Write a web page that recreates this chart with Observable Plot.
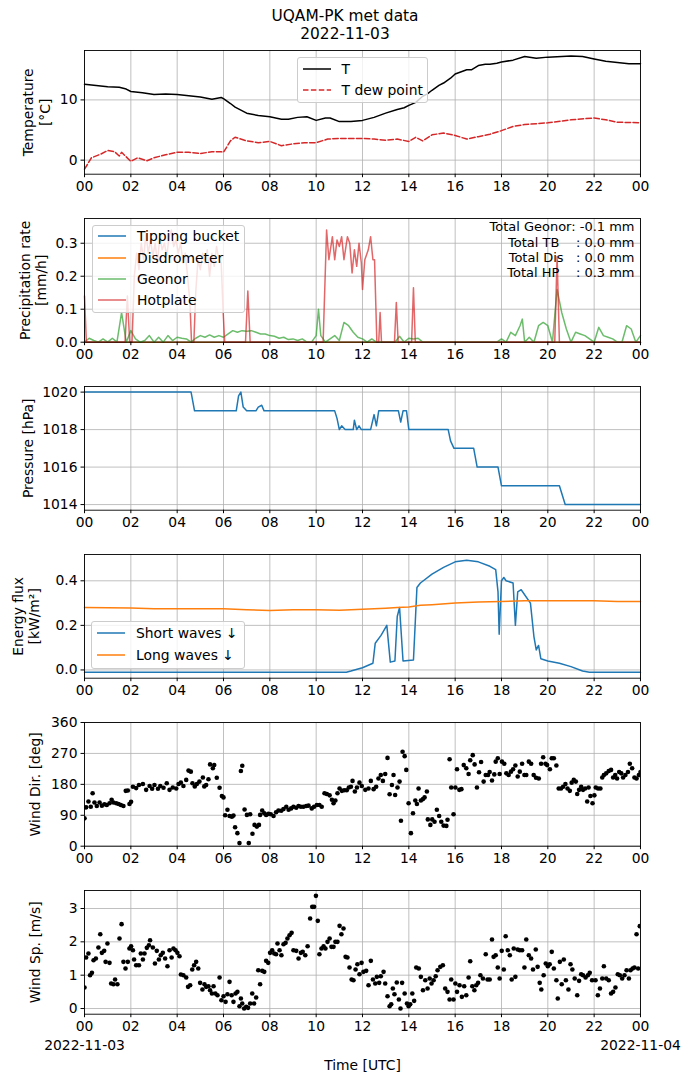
<!DOCTYPE html>
<html>
<head>
<meta charset="utf-8">
<script src="https://cdn.jsdelivr.net/npm/d3@7"></script>
<script src="https://cdn.jsdelivr.net/npm/@observablehq/plot@0.6"></script>
<style>
  body { margin: 0; background: #fff; }
  #fig { position: relative; width: 690px; height: 1083px; font-family: "DejaVu Sans"; color: #000; overflow: hidden; background: #fff; }
  .panel { position: absolute; left: 0; }
  svg text { white-space: pre; }
  .title { position: absolute; left: 0; width: 690px; text-align: center; font-size: 15.4px; line-height: 18px; height: 18px; }
  .legend { position: absolute; background: rgba(255,255,255,0.8); border: 1px solid #cccccc; border-radius: 3px; box-sizing: border-box; font-size: 13.9px; }
  .row { position: absolute; left: 0; height: 20px; display: flex; align-items: center; white-space: pre; }
  .row svg { margin-left: 5px; margin-right: 11px; }
</style>
</head>
<body>
<div id="fig"></div>
<script>
// ---------------- DATA ----------------
const titleLines = ["UQAM-PK met data", "2022-11-03"];
const hourTicks = [0, 2, 4, 6, 8, 10, 12, 14, 16, 18, 20, 22, 24];
const dateLabels = ["2022-11-03", "2022-11-04"];

// Temperature [°C]
const tempT = [[0,12.6],[0.5,12.4],[1,12.2],[1.5,12.1],[1.8,11.8],[2,11.4],[2.5,11.2],[3,10.9],[3.5,11.0],[4,10.9],[4.5,10.7],[5,10.5],[5.5,10.1],[5.9,10.4],[6.0,10.2],[6.3,9.4],[6.5,8.8],[7,7.8],[7.5,7.4],[8,7.2],[8.5,6.8],[8.8,6.8],[9.2,7.1],[9.6,7.2],[10,6.6],[10.4,7.0],[10.6,7.0],[11,6.4],[11.5,6.4],[12,6.6],[12.5,7.1],[13,7.8],[13.5,8.4],[13.8,8.7],[14,9.1],[14.3,9.6],[14.6,10.6],[14.8,11.0],[15,11.6],[15.3,12.4],[15.5,12.8],[15.8,13.6],[16,14.3],[16.5,15.0],[16.7,15.0],[17,15.7],[17.3,15.9],[17.5,15.9],[17.8,16.1],[18,16.3],[18.5,16.6],[19,17.2],[19.5,16.9],[20,17.1],[21,17.3],[21.5,17.2],[22,16.8],[22.5,16.4],[23,16.2],[23.5,16.0],[24,16.0]];
const tempDew = [[0,-1.5],[0.3,0.4],[0.7,1.0],[1.0,1.6],[1.3,1.4],[1.5,0.7],[1.6,1.3],[2.0,-0.2],[2.3,0.4],[2.7,-0.1],[3.0,0.4],[3.5,0.9],[4.0,1.3],[4.5,1.3],[5.0,1.1],[5.5,1.4],[5.9,1.4],[6.0,1.3],[6.3,3.2],[6.5,3.8],[7.0,3.2],[7.5,2.9],[8.0,3.1],[8.5,2.4],[9.0,2.7],[9.5,2.9],[10.0,2.9],[10.5,3.5],[11.0,3.6],[12.0,3.6],[12.5,3.5],[13.0,3.3],[13.5,3.5],[14.0,3.1],[14.3,3.8],[14.6,3.2],[15.0,4.2],[15.5,4.5],[16.0,4.1],[16.5,3.5],[17.0,3.9],[17.5,4.3],[18.0,4.9],[18.5,5.6],[19.0,5.9],[20.0,6.2],[21.0,6.7],[22.0,7.0],[22.5,6.7],[23.0,6.3],[24.0,6.2]];

// Precipitation rate [mm/h]
const precipTB = [[0,0],[24,0]];
const precipDis = [[0,0],[24,0]];
const precipGeonor = [[0,0],[0.2,0.012],[0.4,0.005],[0.6,0],[0.8,0.01],[1.0,0],[1.2,0.012],[1.4,0],[1.6,0.09],[1.8,0],[2.0,0.035],[2.2,0.01],[2.4,0],[2.6,0.005],[2.8,0.02],[3.0,0],[3.2,0.015],[3.4,0],[3.6,0.02],[3.8,0.005],[4.0,0.015],[4.2,0.012],[4.4,0.01],[4.6,0],[4.8,0.012],[5.0,0.02],[5.2,0.015],[5.4,0.022],[5.6,0.015],[5.8,0.02],[6.0,0.015],[6.2,0.025],[6.4,0.035],[6.6,0.03],[6.8,0.035],[7.0,0.033],[7.2,0.035],[7.4,0.03],[7.6,0.025],[7.8,0.025],[8.0,0.02],[8.2,0.018],[8.4,0.012],[8.6,0.015],[8.8,0.008],[9.0,0.01],[9.2,0.005],[9.4,0.01],[9.6,0],[9.8,0],[10.0,0.02],[10.1,0.1],[10.2,0.02],[10.4,0],[10.6,0.01],[10.8,0.02],[11.0,0.005],[11.2,0.06],[11.4,0.05],[11.6,0.03],[11.8,0.015],[12.0,0.01],[12.2,0],[12.4,0.01],[12.6,0],[13.4,0],[13.6,0.018],[13.8,0],[14.0,0.012],[14.2,0.01],[14.4,0.012],[14.6,0],[17.8,0],[18.0,0.01],[18.2,0],[18.4,0.03],[18.6,0.02],[18.8,0.05],[18.9,0.07],[19.0,0],[19.2,0.015],[19.4,0],[19.6,0.05],[19.8,0.06],[20.0,0.05],[20.2,0],[20.4,0.16],[20.6,0.09],[20.8,0.04],[21.0,0],[21.2,0.03],[21.4,0.025],[21.6,0.02],[21.8,0.01],[22.0,0],[22.2,0.045],[22.4,0.02],[22.6,0.015],[22.8,0.01],[23.0,0],[23.2,0],[23.4,0.05],[23.6,0.04],[23.8,0],[24.0,0.02]];
const precipHotplate = [[0,0.14],[0.08,0],[1.75,0],[1.85,0.14],[1.95,0],[2.05,0],[2.15,0.2],[2.25,0.27],[2.35,0.22],[2.45,0.3],[2.55,0.25],[2.65,0.33],[2.75,0.27],[2.85,0.31],[2.95,0.26],[3.05,0.3],[3.15,0.24],[3.25,0.32],[3.35,0.28],[3.45,0.3],[3.55,0.26],[3.65,0.32],[3.75,0.34],[3.85,0.29],[3.95,0.31],[4.05,0.27],[4.15,0.3],[4.25,0.24],[4.35,0.27],[4.45,0.2],[4.55,0.12],[4.62,0],[4.72,0],[4.8,0.15],[4.9,0.25],[5.0,0.22],[5.1,0.27],[5.2,0.24],[5.3,0.28],[5.4,0.2],[5.5,0.27],[5.6,0.23],[5.7,0.29],[5.8,0.25],[5.9,0.24],[5.98,0.1],[6.05,0],[6.95,0],[7.05,0.155],[7.15,0],[10.3,0],[10.45,0.34],[10.55,0.25],[10.7,0.32],[10.8,0.25],[10.9,0.31],[11.0,0.29],[11.1,0.32],[11.2,0.25],[11.35,0.32],[11.45,0.3],[11.55,0.21],[11.65,0.28],[11.75,0.23],[11.85,0.3],[11.95,0.24],[12.0,0.16],[12.1,0.25],[12.25,0.28],[12.35,0.32],[12.45,0.25],[12.52,0.25],[12.62,0],[12.7,0],[12.76,0.09],[12.82,0],[13.38,0],[13.46,0.12],[13.54,0],[14.12,0],[14.2,0.165],[14.28,0],[20.3,0],[20.4,0.26],[20.5,0],[24,0]];
const precipTotals = ["Total Geonor: -0.1 mm", "Total TB    : 0.0 mm", "Total Dis   : 0.0 mm", "Total HP    : 0.3 mm"];

// Pressure [hPa]
const pressure = [[0,1020],[4.6,1020],[4.75,1019],[6.55,1019],[6.65,1019.8],[6.75,1020],[6.85,1019.2],[7.0,1019],[7.4,1019],[7.5,1019.2],[7.65,1019.3],[7.75,1019],[10.8,1019],[10.9,1018.6],[11.0,1018],[11.1,1018.2],[11.25,1018],[11.6,1018],[11.65,1018.5],[11.75,1018],[11.85,1018.2],[11.95,1018],[12.35,1018],[12.5,1018.8],[12.6,1018.2],[12.7,1019],[13.55,1019],[13.65,1018.4],[13.75,1019],[13.9,1019],[14.0,1018],[15.7,1018],[15.8,1017.4],[15.95,1017],[16.8,1017],[16.95,1016],[17.85,1016],[18.0,1015],[20.5,1015],[20.75,1014],[24,1014]];

// Energy flux [kW/m²]
const shortWaves = [[0,-0.01],[11.3,-0.01],[11.5,-0.005],[12.0,0.01],[12.45,0.03],[12.55,0.12],[12.8,0.155],[13.05,0.2],[13.2,0.035],[13.4,0.04],[13.5,0.24],[13.6,0.28],[13.75,0.04],[14.2,0.045],[14.35,0.37],[14.5,0.39],[15.0,0.43],[15.5,0.46],[16.0,0.485],[16.5,0.492],[17.0,0.485],[17.5,0.465],[17.75,0.45],[17.85,0.35],[17.9,0.16],[18.0,0.4],[18.1,0.415],[18.2,0.4],[18.5,0.39],[18.6,0.2],[18.7,0.35],[18.85,0.36],[19.25,0.3],[19.4,0.15],[19.5,0.09],[19.6,0.11],[19.7,0.05],[20.0,0.04],[20.5,0.03],[21.0,0.015],[21.5,-0.005],[21.8,-0.01],[24,-0.01]];
const longWaves = [[0,0.28],[2,0.278],[3,0.275],[4,0.275],[6,0.275],[7,0.27],[8,0.267],[9,0.27],[10,0.27],[11,0.268],[12,0.272],[13,0.277],[13.5,0.28],[14,0.282],[14.5,0.29],[15,0.293],[16,0.3],[17,0.305],[18,0.307],[19,0.31],[20,0.31],[21,0.31],[22,0.31],[23,0.307],[24,0.307]];

// Wind direction [deg]
const windDir = [[0.00,81],[0.07,113],[0.17,130],[0.27,115],[0.35,154],[0.43,127],[0.53,117],[0.65,127],[0.75,118],[0.86,122],[0.96,120],[1.08,125],[1.17,135],[1.25,127],[1.37,125],[1.47,123],[1.57,120],[1.68,117],[1.78,161],[1.87,162],[1.94,123],[2.01,129],[2.09,173],[2.23,169],[2.35,178],[2.52,181],[2.66,164],[2.81,175],[2.92,167],[3.02,178],[3.17,167],[3.27,175],[3.41,170],[3.55,183],[3.67,164],[3.81,171],[3.96,168],[4.06,181],[4.16,185],[4.27,175],[4.39,193],[4.49,220],[4.59,217],[4.66,183],[4.76,174],[4.85,181],[4.96,188],[5.11,200],[5.17,174],[5.25,178],[5.35,195],[5.42,238],[5.54,227],[5.60,236],[5.71,199],[5.83,170],[5.93,146],[6.00,142],[6.07,90],[6.17,106],[6.26,88],[6.36,86],[6.43,89],[6.50,55],[6.60,38],[6.69,9],[6.75,219],[6.81,234],[6.91,107],[7.01,91],[7.09,9],[7.15,93],[7.25,36],[7.34,62],[7.44,57],[7.53,62],[7.58,91],[7.67,104],[7.76,96],[7.84,91],[7.94,94],[8.04,93],[8.16,88],[8.27,99],[8.37,104],[8.49,103],[8.59,108],[8.71,115],[8.81,106],[8.92,110],[9.02,115],[9.14,112],[9.24,117],[9.34,115],[9.45,115],[9.57,117],[9.67,118],[9.81,110],[9.91,115],[10.03,120],[10.14,120],[10.24,115],[10.36,154],[10.46,152],[10.58,148],[10.68,135],[10.75,125],[10.83,133],[10.92,154],[11.01,168],[11.11,161],[11.21,163],[11.32,163],[11.41,171],[11.50,173],[11.57,190],[11.67,159],[11.76,171],[11.87,185],[11.97,175],[12.12,164],[12.26,168],[12.36,190],[12.48,166],[12.59,173],[12.69,197],[12.79,207],[12.88,190],[12.98,210],[13.08,257],[13.17,151],[13.27,178],[13.34,207],[13.41,149],[13.51,171],[13.60,188],[13.66,74],[13.73,275],[13.82,262],[13.89,222],[13.99,125],[14.09,38],[14.18,96],[14.28,133],[14.35,123],[14.42,168],[14.52,133],[14.61,137],[14.68,142],[14.78,159],[14.82,78],[14.93,62],[15.01,78],[15.11,71],[15.21,106],[15.31,88],[15.40,71],[15.50,60],[15.62,59],[15.67,77],[15.76,253],[15.83,171],[15.93,93],[16.01,171],[16.08,224],[16.18,164],[16.27,166],[16.37,236],[16.48,227],[16.58,210],[16.65,250],[16.76,265],[16.84,238],[16.94,171],[17.03,215],[17.12,245],[17.23,188],[17.32,207],[17.42,207],[17.49,216],[17.59,191],[17.69,209],[17.75,246],[17.84,256],[17.92,210],[18.02,246],[18.12,240],[18.21,212],[18.31,207],[18.41,217],[18.50,224],[18.60,235],[18.70,203],[18.79,217],[18.89,240],[18.99,207],[19.07,207],[19.18,246],[19.28,240],[19.39,207],[19.49,199],[19.61,197],[19.71,240],[19.80,259],[19.90,240],[19.97,236],[20.09,224],[20.17,256],[20.26,256],[20.37,235],[20.47,168],[20.57,168],[20.66,173],[20.76,181],[20.85,168],[20.95,161],[21.03,185],[21.12,193],[21.21,188],[21.27,152],[21.35,164],[21.44,173],[21.52,164],[21.61,168],[21.70,130],[21.76,171],[21.84,146],[21.93,125],[22.01,148],[22.07,171],[22.17,168],[22.27,168],[22.35,200],[22.42,207],[22.52,212],[22.63,219],[22.73,222],[22.82,200],[22.91,207],[22.99,197],[23.08,216],[23.17,212],[23.25,200],[23.35,207],[23.46,216],[23.54,240],[23.64,227],[23.74,200],[23.83,197],[23.93,207],[24.00,216]];

// Wind speed [m/s]
const windSpeed = [[0.00,0.63],[0.07,1.53],[0.17,1.65],[0.24,1.0],[0.32,1.07],[0.39,1.45],[0.49,1.5],[0.60,1.83],[0.68,2.23],[0.75,1.67],[0.85,1.73],[0.91,1.4],[0.99,1.95],[1.08,1.37],[1.15,0.75],[1.25,0.73],[1.32,0.87],[1.42,0.73],[1.51,2.1],[1.60,2.53],[1.68,1.4],[1.77,1.2],[1.87,1.4],[1.94,1.8],[2.01,1.87],[2.09,1.75],[2.14,1.47],[2.23,1.3],[2.35,1.3],[2.43,1.65],[2.52,1.47],[2.59,1.65],[2.69,1.82],[2.78,1.9],[2.83,2.05],[2.95,1.83],[3.04,1.35],[3.12,1.73],[3.21,1.47],[3.29,1.6],[3.38,1.67],[3.48,1.5],[3.58,1.27],[3.67,1.75],[3.76,1.53],[3.84,1.8],[3.93,1.75],[4.01,1.67],[4.10,1.57],[4.16,1.02],[4.27,1.0],[4.39,0.93],[4.47,0.65],[4.56,0.7],[4.65,1.17],[4.73,1.3],[4.82,1.4],[4.91,1.2],[4.99,0.77],[5.09,0.57],[5.18,0.73],[5.25,0.65],[5.35,0.67],[5.42,0.55],[5.50,0.45],[5.57,0.67],[5.65,0.45],[5.74,0.4],[5.83,0.93],[5.91,0.25],[6.00,0.37],[6.09,0.2],[6.17,0.43],[6.26,0.8],[6.35,0.4],[6.43,0.2],[6.52,0.45],[6.60,0.5],[6.69,0.07],[6.75,0.3],[6.81,0.15],[6.89,0.0],[6.98,0.05],[7.06,0.02],[7.15,0.15],[7.24,0.45],[7.32,0.15],[7.41,0.33],[7.50,1.15],[7.58,0.73],[7.67,1.13],[7.76,1.1],[7.84,1.43],[7.93,1.37],[8.01,1.67],[8.10,1.75],[8.19,1.65],[8.27,1.63],[8.33,1.95],[8.42,1.75],[8.50,1.6],[8.59,1.93],[8.68,1.97],[8.76,2.1],[8.85,2.2],[8.94,2.27],[9.02,1.75],[9.14,1.73],[9.24,1.5],[9.34,1.67],[9.42,1.7],[9.53,1.6],[9.63,1.87],[9.74,2.7],[9.83,3.05],[9.91,3.05],[9.99,3.38],[10.07,2.63],[10.14,1.63],[10.23,1.8],[10.32,1.87],[10.40,1.8],[10.49,2.0],[10.58,2.1],[10.66,1.85],[10.75,1.85],[10.83,2.0],[10.92,2.0],[11.01,2.48],[11.09,2.23],[11.18,2.4],[11.27,1.55],[11.35,1.53],[11.44,1.23],[11.53,0.87],[11.61,0.85],[11.70,1.17],[11.78,1.33],[11.87,1.03],[11.96,1.37],[12.04,1.1],[12.16,1.13],[12.26,0.7],[12.36,1.43],[12.45,0.87],[12.55,0.75],[12.62,0.95],[12.72,0.77],[12.79,0.97],[12.91,1.1],[12.98,0.75],[13.08,0.37],[13.17,0.07],[13.24,0.13],[13.31,0.6],[13.38,0.43],[13.48,0.78],[13.57,0.27],[13.64,0.0],[13.71,0.77],[13.82,0.45],[13.92,0.15],[13.99,0.07],[14.06,0.13],[14.15,0.45],[14.23,0.23],[14.32,1.23],[14.43,1.2],[14.52,0.95],[14.61,0.55],[14.71,0.85],[14.81,0.6],[14.90,0.9],[14.98,0.75],[15.07,0.85],[15.16,0.97],[15.24,1.15],[15.36,1.25],[15.47,1.3],[15.57,0.6],[15.67,0.5],[15.76,0.27],[15.83,0.87],[15.93,0.27],[16.01,0.75],[16.08,0.5],[16.19,0.7],[16.29,0.35],[16.39,0.67],[16.48,0.4],[16.58,0.93],[16.65,1.42],[16.74,0.67],[16.83,0.55],[16.91,0.7],[16.99,0.77],[17.09,1.0],[17.20,0.9],[17.32,1.63],[17.40,0.87],[17.49,0.87],[17.59,2.07],[17.66,1.55],[17.75,1.6],[17.84,1.23],[17.92,0.9],[18.01,1.73],[18.10,1.17],[18.18,2.17],[18.27,1.75],[18.36,1.6],[18.44,0.87],[18.53,1.8],[18.60,0.95],[18.70,1.77],[18.79,1.75],[18.89,1.75],[18.99,1.23],[19.07,2.07],[19.18,1.6],[19.28,1.5],[19.36,1.17],[19.48,1.77],[19.56,1.25],[19.65,0.77],[19.72,0.57],[19.82,1.0],[19.91,1.35],[20.00,1.27],[20.08,1.33],[20.17,1.7],[20.26,1.2],[20.37,0.85],[20.43,0.3],[20.52,1.4],[20.60,0.73],[20.69,1.47],[20.78,0.85],[20.89,0.57],[20.98,1.33],[21.06,1.17],[21.16,0.9],[21.27,0.4],[21.35,0.83],[21.44,1.03],[21.52,1.0],[21.63,0.93],[21.73,1.0],[21.81,1.07],[21.91,0.85],[22.06,0.85],[22.16,0.4],[22.25,0.6],[22.35,0.9],[22.42,1.27],[22.52,0.9],[22.63,0.85],[22.73,0.45],[22.82,0.5],[22.92,0.63],[23.02,1.03],[23.11,1.0],[23.21,0.9],[23.31,1.0],[23.40,1.15],[23.50,0.9],[23.57,1.15],[23.66,1.2],[23.74,1.23],[23.83,2.23],[23.90,1.2],[23.97,2.47]];

// ---------------- LAYOUT / STYLE ----------------
const W = 690, ML = 84, MR = 50, FH = 123.7, MT = 6;
const FONT = "DejaVu Sans";
const GRID = "#b0b0b0";
const C = { blue: "#1f77b4", orange: "#ff7f0e", green: "#2ca02c", red: "#d62728" };
const pad2 = h => String(h % 24).padStart(2, "0");
const fig = document.getElementById("fig");

titleLines.forEach((t, i) => {
  const d = document.createElement("div");
  d.className = "title";
  d.style.top = (7 + i * 17.5) + "px";
  d.textContent = t;
  fig.appendChild(d);
});

function panel({top, yDomain, yTicks, yFormat = d => String(d), ylabel, labelDx, marks, bottom = false, extra = []}) {
  const MB = bottom ? 1083 - (top + FH) : 40;
  const svg = Plot.plot({
    width: W, height: FH + MT + MB,
    marginLeft: ML, marginRight: MR, marginTop: MT, marginBottom: MB,
    style: {fontFamily: FONT, fontSize: "13.9px", color: "black", background: "transparent", overflow: "visible"},
    x: {domain: [0, 24]},
    y: {domain: yDomain},
    marks: [
      Plot.gridX(hourTicks, {stroke: GRID, strokeOpacity: 1, strokeWidth: 0.8}),
      Plot.gridY(yTicks, {stroke: GRID, strokeOpacity: 1, strokeWidth: 0.8}),
      ...marks,
      Plot.frame({stroke: "black", strokeWidth: 0.9}),
      Plot.axisX(hourTicks, {tickFormat: pad2, tickSize: 3.5, tickPadding: 3.5, label: null, fontSize: 13.9}),
      Plot.axisY(yTicks, {tickFormat: yFormat, tickSize: 3.5, tickPadding: 3.5, label: null, fontSize: 13.9}),
      Plot.text([ylabel], {frameAnchor: "left", dx: labelDx, rotate: -90, textAnchor: "middle", lineAnchor: "middle", lineHeight: 1.2, text: d => d, fontSize: 13.9}),
      ...extra
    ]
  });
  const div = document.createElement("div");
  div.className = "panel";
  div.style.top = (top - MT) + "px";
  div.appendChild(svg);
  fig.appendChild(div);
}

function legend({left, top, width, height, items}) {
  const box = document.createElement("div");
  box.className = "legend";
  Object.assign(box.style, {left: left + "px", top: top + "px", width: width + "px", height: height + "px"});
  items.forEach(it => {
    const row = document.createElement("div");
    row.className = "row";
    row.style.top = (it.cy - top - 1 - 10) + "px";
    row.innerHTML = `<svg width="28" height="4"><line x1="0" y1="2" x2="28" y2="2" stroke="${it.color}" stroke-opacity="${it.opacity ?? 1}" stroke-width="1.5" ${it.dash ? `stroke-dasharray="${it.dash}"` : ""}/></svg><span>${it.label}</span>`;
    box.appendChild(row);
  });
  fig.appendChild(box);
}

const X = d => d[0], Y = d => d[1];
const tops = [50, 218.05, 386.1, 554.15, 722.2, 890.3];

// Panel 1: temperature
panel({
  top: tops[0], yDomain: [-2.33, 18.2], yTicks: [0, 10],
  ylabel: "Temperature\n[°C]", labelDx: -48.5,
  marks: [
    Plot.line(tempT, {x: X, y: Y, stroke: "black", strokeWidth: 1.5}),
    Plot.line(tempDew, {x: X, y: Y, stroke: C.red, strokeWidth: 1.5, strokeDasharray: "5.5,2.4"})
  ]
});

// Panel 2: precipitation
panel({
  top: tops[1], yDomain: [0, 0.375], yTicks: [0, 0.1, 0.2, 0.3], yFormat: d3.format(".1f"),
  ylabel: "Precipitation rate\n[mm/h]", labelDx: -52,
  marks: [
    Plot.line(precipTB, {x: X, y: Y, stroke: C.blue, strokeWidth: 1.5}),
    Plot.line(precipDis, {x: X, y: Y, stroke: C.orange, strokeWidth: 1.5}),
    Plot.line(precipGeonor, {x: X, y: Y, stroke: C.green, strokeOpacity: 0.7, strokeWidth: 1.5}),
    Plot.line(precipHotplate, {x: X, y: Y, stroke: C.red, strokeOpacity: 0.7, strokeWidth: 1.5})
  ],
  extra: [
    Plot.text([precipTotals.join("\n")], {frameAnchor: "top-right", dx: -6, dy: 2, textAnchor: "end", lineAnchor: "top", lineHeight: 1.18, text: d => d, fontSize: 13})
  ]
});

// Panel 3: pressure
panel({
  top: tops[2], yDomain: [1013.7, 1020.3], yTicks: [1014, 1016, 1018, 1020],
  ylabel: "Pressure [hPa]", labelDx: -57,
  marks: [Plot.line(pressure, {x: X, y: Y, stroke: C.blue, strokeWidth: 1.5})]
});

// Panel 4: energy flux
panel({
  top: tops[3], yDomain: [-0.037, 0.518], yTicks: [0, 0.2, 0.4], yFormat: d3.format(".1f"),
  ylabel: "Energy flux\n[kW/m²]", labelDx: -59,
  marks: [
    Plot.line(shortWaves, {x: X, y: Y, stroke: C.blue, strokeWidth: 1.5}),
    Plot.line(longWaves, {x: X, y: Y, stroke: C.orange, strokeWidth: 1.5})
  ]
});

// Panel 5: wind direction
panel({
  top: tops[4], yDomain: [0, 360], yTicks: [0, 90, 180, 270, 360],
  ylabel: "Wind Dir. [deg]", labelDx: -50,
  marks: [Plot.dot(windDir, {x: X, y: Y, r: 2.3, fill: "black", stroke: "none", clip: true})]
});

// Panel 6: wind speed
panel({
  top: tops[5], yDomain: [-0.17, 3.54], yTicks: [0, 1, 2, 3],
  ylabel: "Wind Sp. [m/s]", labelDx: -50, bottom: true,
  marks: [Plot.dot(windSpeed, {x: X, y: Y, r: 2.3, fill: "black", stroke: "none", clip: true})],
  extra: [
    Plot.text([0, 24], {x: d => d, frameAnchor: "bottom", dy: 31.7, lineAnchor: "middle", textAnchor: "middle", text: (d, i) => dateLabels[i], fontSize: 13.9}),
    Plot.text(["Time [UTC]"], {frameAnchor: "bottom", dy: 51, lineAnchor: "middle", textAnchor: "middle", text: d => d, fontSize: 13.9})
  ]
});

// Legends
legend({left: 296.5, top: 57.3, width: 131.5, height: 46, items: [
  {label: "T", color: "black", cy: 69},
  {label: "T dew point", color: C.red, dash: "5.5,2.4", cy: 90}
]});
legend({left: 92, top: 225, width: 153, height: 88, items: [
  {label: "Tipping bucket", color: C.blue, cy: 236},
  {label: "Disdrometer", color: C.orange, cy: 258},
  {label: "Geonor", color: C.green, opacity: 0.7, cy: 279},
  {label: "Hotplate", color: C.red, opacity: 0.7, cy: 300}
]});
legend({left: 91, top: 621, width: 154, height: 48, items: [
  {label: "Short waves ↓", color: C.blue, cy: 633},
  {label: "Long waves ↓", color: C.orange, cy: 655}
]});
</script>
</body>
</html>
